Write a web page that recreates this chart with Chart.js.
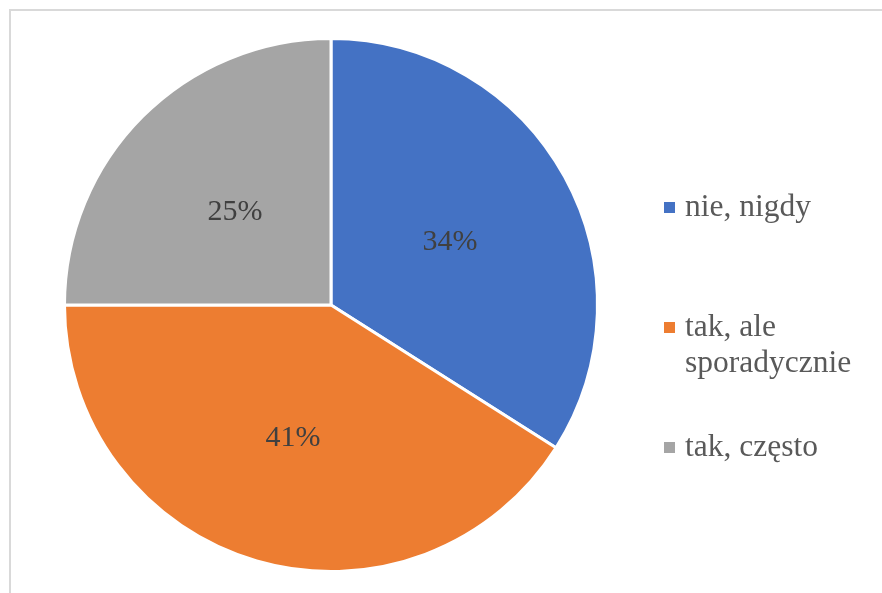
<!DOCTYPE html>
<html>
<head>
<meta charset="utf-8">
<script src="https://cdn.jsdelivr.net/npm/chart.js@4.4.0/dist/chart.umd.min.js"></script>
<style>
  html, body { margin: 0; padding: 0; background: #ffffff; }
  #wrap { position: relative; width: 882px; height: 593px; overflow: hidden; background: #ffffff; }
  #frame { position: absolute; left: 9px; top: 9px; width: 900px; height: 620px; border: 2px solid #d9d9d9; box-sizing: border-box; }
  #pie { position: absolute; left: 0; top: 0; }
  .legend-item { position: absolute; left: 664px; font-family: "Liberation Serif", "Times New Roman", serif; font-size: 31.5px; line-height: 36px; color: #595959; }
  .legend-item .box { position: absolute; left: 0; width: 11px; height: 11px; }
  .legend-item .txt { position: absolute; left: 21px; top: 0; width: 195px; }
</style>
</head>
<body>
<div id="wrap">
  <div id="frame"></div>
  <canvas id="pie" width="882" height="593"></canvas>
  <div id="legend"></div>
</div>
<script>
// Survey answers and their shares (percent)
const categories = ["nie, nigdy", "tak, ale sporadycznie", "tak, często"];
const shares = [34, 41, 25];
const valueLabels = ["34%", "41%", "25%"];
const sliceColors = ["#4472C4", "#ED7D31", "#A5A5A5"];

// Percent labels placed about halfway out along each slice's middle angle
const sliceLabels = {
  id: 'sliceLabels',
  afterDatasetsDraw(chart) {
    const ctx = chart.ctx;
    const meta = chart.getDatasetMeta(0);
    ctx.save();
    ctx.font = '30px "Liberation Serif", "Times New Roman", serif';
    ctx.fillStyle = '#404040';
    ctx.textAlign = 'center';
    ctx.textBaseline = 'middle';
    meta.data.forEach((arc, i) => {
      const p = arc.getProps(['x', 'y', 'startAngle', 'endAngle', 'outerRadius'], true);
      const mid = (p.startAngle + p.endAngle) / 2;
      const r = p.outerRadius * 0.51;
      ctx.fillText(valueLabels[i], p.x + Math.cos(mid) * r, p.y + Math.sin(mid) * r + 3);
    });
    ctx.restore();
  }
};

new Chart(document.getElementById('pie'), {
  type: 'pie',
  data: {
    labels: categories,
    datasets: [{
      data: shares,
      backgroundColor: sliceColors,
      borderColor: '#ffffff',
      borderWidth: 3
    }]
  },
  options: {
    responsive: false,
    animation: false,
    layout: { padding: { left: 63, right: 283, top: 37, bottom: 20 } },
    plugins: {
      legend: { display: false },
      tooltip: { enabled: false }
    },
    events: []
  },
  plugins: [sliceLabels]
});

// Legend on the right
const legendTops = [188, 308, 428];
const legend = document.getElementById('legend');
categories.forEach((name, i) => {
  const item = document.createElement('div');
  item.className = 'legend-item';
  item.style.top = legendTops[i] + 'px';
  const box = document.createElement('div');
  box.className = 'box';
  box.style.background = sliceColors[i];
  box.style.top = '14px';
  const txt = document.createElement('div');
  txt.className = 'txt';
  txt.textContent = name;
  item.appendChild(box);
  item.appendChild(txt);
  legend.appendChild(item);
});
</script>
</body>
</html>
